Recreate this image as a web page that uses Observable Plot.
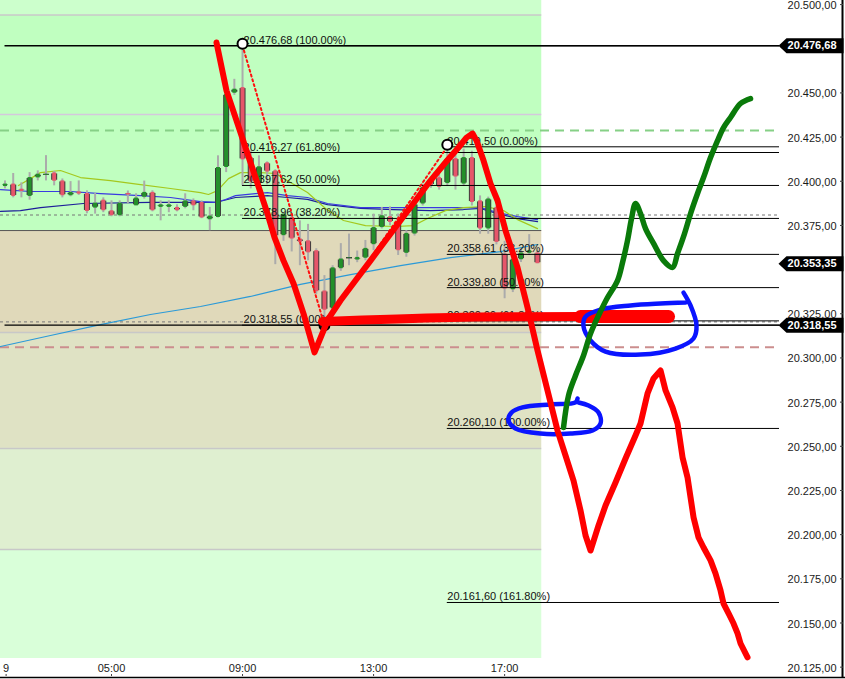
<!DOCTYPE html>
<html><head><meta charset="utf-8">
<script src="https://cdn.jsdelivr.net/npm/d3@7"></script>
<script src="https://cdn.jsdelivr.net/npm/@observablehq/plot@0.6"></script>
<style>body{margin:0;background:#fff}#chart svg{display:block}</style>
</head><body><div id="chart"></div>
<script>
// ---- candles (15 min) ----
const times = ["01:45","02:00","02:15","02:30","02:45","03:00","03:15","03:30","03:45","04:00","04:15","04:30","04:45","05:00","05:15","05:30","05:45","06:00","06:15","06:30","06:45","07:00","07:15","07:30","07:45","08:00","08:15","08:30","08:45","09:00","09:15","09:30","09:45","10:00","10:15","10:30","10:45","11:00","11:15","11:30","11:45","12:00","12:15","12:30","12:45","13:00","13:15","13:30","13:45","14:00","14:15","14:30","14:45","15:00","15:15","15:30","15:45","16:00","16:15","16:30","16:45","17:00","17:15","17:30","17:45","18:00"];
const opens = [20397.0,20398.4,20395.5,20391.4,20401.9,20403.4,20404.7,20400.2,20391.8,20394.0,
20393.1,20384.8,20389.3,20383.3,20380.5,20393.1,20386.1,20390.9,20393.7,20385.2,
20385.2,20385.2,20385.2,20388.9,20388.0,20378.2,20379.5,20407.8,20449.8,20453.0,
20413.4,20398.4,20410.4,20405.9,20369.2,20379.5,20367.3,20366.3,20360.7,20337.9,
20327.8,20350.5,20356.3,20355.4,20356.4,20364.1,20373.8,20379.9,20376.7,20359.2,
20370.1,20387.1,20400.5,20402.0,20398.7,20412.8,20398.4,20413.4,20388.9,20373.0,
20385.2,20358.8,20338.6,20355.6,20359.2,20359.4];
const highs = [20400.2,20404.4,20399.1,20404.9,20405.9,20414.5,20405.5,20401.3,20399.8,20400.2,
20394.6,20393.1,20390.6,20388.9,20388.9,20394.5,20392.9,20400.1,20394.6,20388.9,
20388.9,20386.7,20392.9,20390.0,20388.9,20385.2,20414.4,20457.7,20457.7,20476.68,
20417.1,20414.4,20411.0,20406.5,20382.0,20381.4,20377.6,20375.6,20361.8,20346.6,
20352.2,20364.7,20370.1,20360.5,20366.5,20381.4,20385.2,20385.5,20381.5,20372.0,
20389.0,20398.4,20402.0,20405.0,20419.5,20415.6,20418.2,20417.0,20391.7,20391.0,
20386.0,20366.0,20357.5,20361.8,20369.8,20360.7];
const lows = [20395.7,20390.6,20390.6,20389.3,20400.2,20400.2,20397.4,20390.6,20391.2,20392.0,
20381.6,20381.4,20382.2,20379.9,20379.9,20387.3,20386.1,20389.9,20382.7,20377.6,
20382.2,20382.7,20384.4,20383.3,20378.8,20372.0,20379.2,20404.9,20448.6,20397.4,
20395.7,20395.7,20398.0,20352.8,20366.0,20360.0,20352.2,20355.0,20336.0,20318.55,
20325.0,20349.0,20352.2,20353.9,20355.0,20360.7,20373.0,20374.8,20358.0,20357.0,
20369.0,20386.0,20396.0,20395.0,20397.0,20395.0,20397.0,20386.0,20370.0,20370.0,
20364.0,20333.5,20337.0,20354.0,20358.0,20353.3];
const closes = [20398.4,20391.4,20394.2,20402.1,20404.0,20403.9,20400.0,20391.8,20393.7,20392.7,
20382.9,20387.6,20383.3,20380.5,20387.6,20392.2,20390.5,20393.7,20383.3,20386.7,
20386.7,20383.3,20388.9,20386.1,20379.2,20380.3,20407.8,20449.2,20452.1,20412.1,
20399.5,20408.2,20405.2,20368.6,20381.4,20367.3,20365.4,20359.5,20337.5,20327.0,
20351.0,20356.0,20356.6,20356.9,20362.0,20373.8,20380.5,20376.7,20360.7,20370.5,
20387.1,20396.5,20397.6,20396.5,20412.8,20402.4,20413.4,20388.0,20373.0,20390.0,
20365.4,20339.0,20355.9,20359.4,20360.7,20353.35];

// ---- moving averages [hour, price] ----
const maYellow = [[2.161,20397.6],[2.527,20401.5],[2.833,20404.9],[3.443,20406.1],[4.054,20402.1],[4.969,20400.4],[5.885,20398.1],[6.801,20395.9],[7.717,20393.6],[7.961,20392.5],[8.236,20394.7],[8.571,20401.5],[8.938,20404.9],[9.548,20404.9],[10.006,20404.4],[10.464,20399.3],[10.983,20393.6],[11.532,20384.6],[12.082,20377.8],[12.753,20374.9],[13.669,20374.4],[14.219,20374.9],[14.646,20378.9],[15.195,20383.4],[15.745,20385.1],[16.416,20385.7],[16.966,20383.4],[17.393,20378.3],[18.004,20373.2]];
const maBlue = [[1.612,20395.3],[2.527,20394.2],[3.748,20394.2],[4.664,20393.0],[5.885,20391.9],[6.801,20390.8],[7.717,20388.5],[8.175,20388.0],[8.480,20389.7],[8.785,20391.9],[9.396,20393.0],[9.762,20393.6],[10.372,20391.9],[10.983,20390.8],[11.593,20387.4],[12.601,20385.1],[13.608,20385.1],[14.646,20385.1],[15.653,20385.1],[16.263,20385.1],[16.783,20382.3],[17.393,20380.0],[18.004,20378.3]];
const maNavy = [[1.612,20382.9],[2.222,20383.4],[2.833,20385.1],[4.145,20387.4],[6.190,20388.0],[8.175,20388.0],[8.785,20390.8],[9.396,20391.4],[9.762,20391.9],[10.372,20390.8],[10.983,20389.7],[11.593,20386.8],[12.601,20384.6],[13.608,20384.0],[14.738,20383.4],[15.745,20384.0],[16.263,20384.6],[16.783,20381.7],[17.393,20378.9],[18.004,20377.2]];
const maLightBlue = [[1.612,20306.5],[3.138,20312.7],[4.664,20318.9],[6.190,20324.6],[7.717,20329.1],[9.243,20334.8],[10.769,20341.6],[12.296,20347.2],[13.822,20352.3],[15.348,20356.8],[16.874,20360.2],[18.004,20364.2]];

// ---- zones ----
const zoneEnd = "18:08";
const zones = [
  {lo: 20494.06, hi: 20502.3, color: "#ccffcc"},
  {lo: 20372.1, hi: 20494.06, color: "#c0ffc0"},
  {lo: 20314.4, hi: 20372.1, color: "#e0d9ba"},
  {lo: 20248.8, hi: 20314.4, color: "#dfe2c4"},
  {lo: 20191.6, hi: 20248.8, color: "#dfefd0"},
  {lo: 20129.9, hi: 20191.6, color: "#d9ffd9"}
];
const zoneLines = [
  {value: 20494.06, color: "#c8c8c8"},
  {value: 20437.75, color: "#d4c8dc"},
  {value: 20372.1, color: "#555555"},
  {value: 20314.4, color: "#c8c8c8"},
  {value: 20248.8, color: "#c8c8c8"},
  {value: 20191.6, color: "#c8c8c8"}
];

// ---- horizontal levels ----
const greenDashed = [20428.7];
const rosyDashed = [20306.1];
const grayDashed = [20380.9, 20320.4];
const tagLevels = [20476.68, 20318.55];
const fib1Start = "09:00";
const fib1 = [
  {value: 20476.68, pct: "100.00%"},
  {value: 20416.27, pct: "61.80%"},
  {value: 20397.62, pct: "50.00%"},
  {value: 20378.96, pct: "38.20%"},
  {value: 20318.55, pct: "0.00%"}
];
const fib2Start = "15:15";
const fib2 = [
  {value: 20419.50, pct: "0.00%"},
  {value: 20358.61, pct: "38.20%"},
  {value: 20339.80, pct: "50.00%"},
  {value: 20320.99, pct: "61.80%"},
  {value: 20260.10, pct: "100.00%"},
  {value: 20161.60, pct: "161.80%"}
];
const dottedPath = [["09:00", 20476.68], ["11:30", 20318.55], ["15:15", 20419.50]];
const anchorsWhite = [["09:00", 20476.68], ["15:15", 20419.50]];
const anchorsLow = [["11:30", 20318.55]];
const priceTags = [20476.68, 20353.35, 20318.55];

// ---- hand drawn strokes [hour, price] ----
const redZigzag = [[8.205,20478.5],[8.510,20451.3],[8.846,20432.7],[9.151,20415.7],[9.457,20398.7],[9.762,20381.7],[9.976,20368.2],[10.250,20355.1],[10.556,20342.1],[10.861,20325.1],[11.197,20303.1],[11.471,20315.5],[11.624,20322.3],[11.990,20332.5],[12.448,20343.8],[12.906,20355.1],[13.364,20366.5],[13.822,20377.8],[14.280,20389.1],[14.738,20400.4],[15.195,20410.6],[15.592,20419.1],[15.836,20424.7],[16.020,20427.0],[16.142,20423.0],[16.356,20411.7],[16.569,20398.7],[16.783,20389.1],[17.027,20372.1],[17.393,20351.2],[17.699,20328.5],[18.004,20304.2],[18.309,20281.6],[18.614,20258.9],[18.858,20244.8],[19.103,20230.6],[19.316,20213.7],[19.469,20199.5],[19.622,20191.0],[19.866,20205.2],[20.080,20216.5],[20.385,20229.5],[20.690,20243.1],[20.995,20256.1],[21.148,20262.9],[21.362,20279.9],[21.545,20288.4],[21.759,20292.9],[21.912,20281.6],[22.125,20272.0],[22.278,20262.9],[22.431,20243.7],[22.583,20232.3],[22.675,20221.0],[22.767,20209.7],[22.919,20198.4],[23.072,20192.7],[23.286,20185.4],[23.437,20178.0],[23.590,20168.4],[23.682,20161.0],[23.835,20155.4],[23.988,20149.7],[24.110,20144.1],[24.201,20138.4],[24.414,20130.5]];
const redBarThin = [[11.441,20320.6],[15.348,20322.9],[19.316,20323.4]];
const redBarThick = [[19.316,20323.4],[22.003,20323.4]];
const greenStroke = [[18.797,20260.6],[18.950,20278.7],[19.164,20290.1],[19.408,20301.4],[19.622,20313.8],[19.866,20324.0],[20.141,20334.2],[20.446,20343.8],[20.599,20354.0],[20.751,20366.5],[20.873,20378.9],[20.995,20387.4],[21.148,20381.7],[21.301,20373.2],[21.545,20364.8],[21.850,20355.1],[22.125,20351.2],[22.278,20359.1],[22.491,20370.4],[22.675,20381.7],[22.888,20393.1],[23.071,20402.1],[23.285,20413.4],[23.499,20423.0],[23.682,20430.4],[23.895,20436.1],[24.200,20444.0],[24.506,20446.8]];
const blueUpper = [[22.460,20337.0],[22.674,20329.7],[22.857,20318.4],[22.766,20311.0],[22.216,20305.3],[21.148,20301.9],[20.080,20303.6],[19.622,20309.9],[19.408,20317.8],[19.469,20323.4],[19.927,20327.4],[20.843,20329.7],[21.759,20330.8],[22.522,20331.4]];
const blueLower = [[19.225,20277.0],[19.164,20274.8],[18.401,20273.7],[17.546,20272.0],[17.210,20269.1],[17.118,20264.6],[17.332,20260.1],[18.095,20257.2],[19.011,20257.2],[19.683,20258.9],[19.927,20262.9],[19.866,20269.1],[19.561,20273.1],[19.256,20274.8]];

// ---- axes ----
const xTicks = ["05:00","09:00","13:00","17:00"];
const xLeftLabel = [{time: "01:47", text: "9"}];
const yTicks = [20125,20150,20175,20200,20225,20250,20275,20300,20325,20350,20375,20400,20425,20450,20475,20500];
const yTicksHiddenByTags = [20350, 20475];
const xDomain = [1.612, 25.39];
const yDomain = [20129.9, 20502.3];

// ---- build ----
const hr = s => { const [h, m] = s.split(":").map(Number); return h + m / 60; };
const de = d3.formatLocale({decimal: ",", thousands: ".", grouping: [3], currency: ["", ""]});
const fmt = de.format(",.2f");
const candles = times.map((t, i) => ({h: hr(t), o: opens[i], hi: highs[i], lo: lows[i], c: closes[i]}));
const up = candles.filter(d => d.c >= d.o), down = candles.filter(d => d.c < d.o);
const bodyLo = d => Math.min(d.o, d.c), bodyHi = d => Math.max(d.o, d.c);
const x0 = xDomain[0], x1 = xDomain[1], z1 = hr(zoneEnd), f1 = hr(fib1Start), f2 = hr(fib2Start), c0 = hr(times[0]);
const pts = a => a.map(([t, v]) => [hr(t), v]);
const tagSymbol = {draw(ctx) { ctx.moveTo(-33, 0); ctx.lineTo(-25, -7.5); ctx.lineTo(32, -7.5); ctx.lineTo(32, 7.5); ctx.lineTo(-25, 7.5); ctx.closePath(); }};
const font = "'Liberation Sans', Arial, sans-serif";
const hand = {curve: "catmull-rom", strokeLinecap: "round", strokeLinejoin: "round"};
const labelTicks = yTicks.filter(v => !yTicksHiddenByTags.includes(v));

const marks = [];
zones.forEach(z => marks.push(Plot.rect([z], {x1: () => x0, x2: () => z1, y1: "lo", y2: "hi", fill: z.color})));
zoneLines.forEach(l => marks.push(Plot.ruleY([l.value], {x1: () => x0, x2: () => z1, stroke: l.color, strokeWidth: l.color === "#555555" ? 1 : 1.5})));
marks.push(
  Plot.ruleY(greenDashed, {x1: () => x0, x2: () => x1, stroke: "#86d086", strokeWidth: 2, strokeDasharray: "9,6"}),
  Plot.ruleY(rosyDashed, {x1: () => x0, x2: () => x1, stroke: "#cc8e8e", strokeWidth: 2, strokeDasharray: "9,6"}),
  Plot.ruleY(grayDashed, {x1: () => x0, x2: () => x1, stroke: "#777", strokeWidth: 1, strokeDasharray: "3,3"}),
  Plot.line(maLightBlue, {stroke: "#2b9ad8", strokeWidth: 1.2}),
  Plot.line(maNavy, {stroke: "#1e1e9a", strokeWidth: 1.2}),
  Plot.line(maBlue, {stroke: "#3a3ae0", strokeWidth: 1.2}),
  Plot.line(maYellow, {stroke: "#a4c81e", strokeWidth: 1.2}),
  Plot.ruleX(candles, {x: "h", y1: "lo", y2: "hi", stroke: "#ababab", strokeWidth: 2}),
  Plot.ruleX(candles, {x: "h", y1: bodyLo, y2: bodyHi, stroke: "#3c3c3c", strokeWidth: 6, insetTop: -1, insetBottom: -1}),
  Plot.ruleX(up, {x: "h", y1: bodyLo, y2: bodyHi, stroke: "#23902a", strokeWidth: 4}),
  Plot.ruleX(down, {x: "h", y1: bodyLo, y2: bodyHi, stroke: "#e6566a", strokeWidth: 4}),
  Plot.ruleY(tagLevels, {x1: () => c0, x2: () => x1, stroke: "#000", strokeWidth: 1.3}),
  Plot.ruleY(fib1, {y: "value", x1: () => f1, x2: () => x1, stroke: "#000", strokeWidth: 1}),
  Plot.ruleY(fib2, {y: "value", x1: () => f2, x2: () => x1, stroke: "#000", strokeWidth: 1}),
  Plot.text(fib1, {x: () => f1, y: "value", text: d => `${fmt(d.value)} (${d.pct})`, textAnchor: "start", lineAnchor: "bottom", dx: 1, dy: -2, fontSize: 11, fill: "#111"}),
  Plot.text(fib2, {x: () => f2, y: "value", text: d => `${fmt(d.value)} (${d.pct})`, textAnchor: "start", lineAnchor: "bottom", dx: 0, dy: -2, fontSize: 11, fill: "#111"}),
  Plot.line(pts(dottedPath), {stroke: "#ff1010", strokeWidth: 2, strokeDasharray: "2,3"}),
  Plot.dot(pts(anchorsWhite), {r: 5, fill: "white", stroke: "#000", strokeWidth: 2, dy: -2}),
  Plot.dot(pts(anchorsLow), {r: 5, fill: "#222", stroke: "#000", strokeWidth: 2}),
  Plot.line(redBarThin, {...hand, stroke: "#ff0000", strokeWidth: 9}),
  Plot.line(redBarThick, {...hand, stroke: "#ff0000", strokeWidth: 13}),
  Plot.line(blueUpper, {...hand, stroke: "#0a14ff", strokeWidth: 4.5}),
  Plot.line(blueLower, {...hand, stroke: "#0a14ff", strokeWidth: 4.5}),
  Plot.line(redZigzag, {...hand, curve: "linear", stroke: "#ff0000", strokeWidth: 6}),
  Plot.line(greenStroke, {...hand, stroke: "#0a7a0a", strokeWidth: 5.5}),
  Plot.ruleX([x1], {dx: 63, insetBottom: -19, stroke: "#000", strokeWidth: 2}),
  Plot.ruleY([yDomain[0]], {dy: 19, insetRight: -66, stroke: "#000", strokeWidth: 1.5}),
  Plot.axisY({anchor: "right", ticks: yTicks, tickSize: 3, dx: 60, tickFormat: () => "", label: null, stroke: "#444"}),
  Plot.axisY({anchor: "right", ticks: labelTicks, tickSize: 0, tickPadding: 0, dx: 57, dy: 1, textAnchor: "end", tickFormat: fmt, label: null, fontSize: 11, fill: "#1a1a1a"}),
  Plot.axisX({anchor: "bottom", ticks: xTicks.map(hr), tickSize: 0, tickPadding: 6, tickFormat: h => String(Math.round(h)).padStart(2, "0") + ":00", label: null, fontSize: 11, fill: "#1a1a1a"}),
  Plot.axisX({anchor: "bottom", ticks: [hr(xLeftLabel[0].time), ...xTicks.map(hr)], tickSize: 2, dy: 16, tickFormat: () => "", label: null, stroke: "#444"}),
  Plot.text(xLeftLabel, {x: d => hr(d.time), text: "text", frameAnchor: "bottom", lineAnchor: "top", dy: 6, fontSize: 11, fill: "#1a1a1a"}),
  Plot.dot(priceTags, {y: d => d, frameAnchor: "right", dx: 32, symbol: tagSymbol, r: 8, fill: "#000", stroke: null}),
  Plot.text(priceTags, {y: d => d, frameAnchor: "right", dx: 57, textAnchor: "end", text: d => fmt(d), fill: "#fff", fontWeight: "bold", fontSize: 11})
);

const chart = Plot.plot({
  width: 845, height: 679,
  marginLeft: 0, marginRight: 66, marginTop: 0, marginBottom: 21,
  x: {type: "linear", domain: xDomain},
  y: {type: "linear", domain: yDomain},
  style: {fontFamily: font, fontSize: "11px", background: "#fff", overflow: "visible"},
  marks
});
document.getElementById("chart").appendChild(chart);
</script>
</body></html>
